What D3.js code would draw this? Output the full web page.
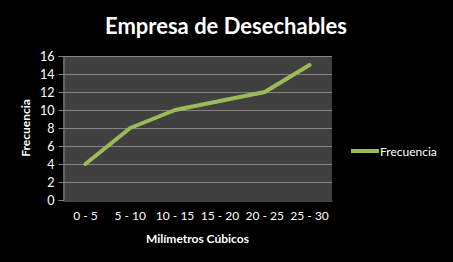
<!DOCTYPE html>
<html><head><meta charset="utf-8">
<script src="https://cdn.jsdelivr.net/npm/d3@7"></script>
<style>body{margin:0;background:#000;}svg{display:block;}</style>
</head><body>
<script>
const categories = ["0 - 5","5 - 10","10 - 15","15 - 20","20 - 25","25 - 30"];
const frecuencia = [4, 8, 10, 11, 12, 15];
const yTicks = [0,2,4,6,8,10,12,14,16];
const title = "Empresa de Desechables";
const xTitle = "Milímetros Cúbicos";
const yTitle = "Frecuencia";
const seriesName = "Frecuencia";

const W = 453, H = 262;
const font = "Lato, 'Open Sans', sans-serif";
const svg = d3.select("body").append("svg").attr("width", W).attr("height", H);
svg.append("rect").attr("width", W).attr("height", H).attr("fill", "#000");

const m = {left: 63, right: 332, top: 56, bottom: 200};
const x = d3.scaleBand().domain(categories).range([m.left, m.right]);
const y = d3.scaleLinear().domain([0, 16]).range([m.bottom, m.top]);

svg.append("rect").attr("x", m.left).attr("y", m.top)
  .attr("width", m.right - m.left).attr("height", m.bottom - m.top).attr("fill", "#404040");

svg.append("g").selectAll("line").data(yTicks.filter(d => d > 0)).join("line")
  .attr("x1", m.left).attr("x2", m.right)
  .attr("y1", d => Math.round(y(d)) + 0.5).attr("y2", d => Math.round(y(d)) + 0.5)
  .attr("stroke", "#858585").attr("stroke-width", 1);

const yAxis = svg.append("g").attr("transform", `translate(${m.left + 0.5},0)`)
  .call(d3.axisLeft(y).tickValues(yTicks).tickSize(5).tickPadding(4));
yAxis.select(".domain").attr("stroke", "#858585");
yAxis.selectAll(".tick line").attr("stroke", "#858585");
yAxis.selectAll("text").attr("fill", "#fff").attr("font-family", font).attr("font-size", 12.5);

const xAxis = svg.append("g").attr("transform", `translate(0,${m.bottom + 0.5})`)
  .call(d3.axisBottom(x).tickSize(0).tickPadding(11));
xAxis.select(".domain").attr("stroke", "#858585");
xAxis.selectAll("text").attr("fill", "#fff").attr("font-family", font).attr("font-size", 12);

const line = d3.line().x((d, i) => x(categories[i]) + x.bandwidth() / 2).y(d => y(d));
svg.append("path").datum(frecuencia).attr("d", line)
  .attr("fill", "none").attr("stroke", "#9BBB59").attr("stroke-width", 4)
  .attr("stroke-linejoin", "round").attr("stroke-linecap", "round");

svg.append("text").attr("x", 226).attr("y", 34).attr("text-anchor", "middle")
  .attr("fill", "#fff").attr("font-family", font).attr("font-weight", "bold").attr("font-size", 22)
  .text(title);

svg.append("text").attr("x", (m.left + m.right) / 2).attr("y", 243).attr("text-anchor", "middle")
  .attr("fill", "#fff").attr("font-family", font).attr("font-weight", "bold").attr("font-size", 12)
  .text(xTitle);

svg.append("text").attr("transform", `translate(30,${(m.top + m.bottom) / 2}) rotate(-90)`)
  .attr("text-anchor", "middle").attr("fill", "#fff").attr("font-family", font)
  .attr("font-weight", "bold").attr("font-size", 12).text(yTitle);

const lg = svg.append("g");
lg.append("line").attr("x1", 351).attr("x2", 379).attr("y1", 151).attr("y2", 151)
  .attr("stroke", "#9BBB59").attr("stroke-width", 4);
lg.append("text").attr("x", 380).attr("y", 155.5).attr("fill", "#fff")
  .attr("font-family", font).attr("font-size", 12).text(seriesName);
</script>
</body></html>
